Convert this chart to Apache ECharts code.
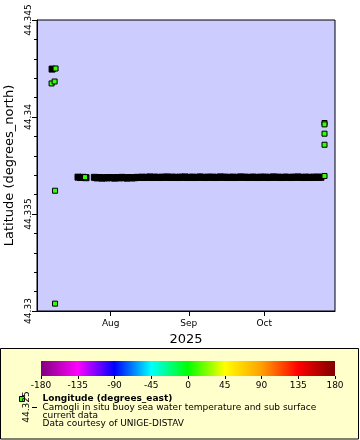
<!DOCTYPE html>
<html>
<head>
<meta charset="utf-8">
<script src="https://cdn.jsdelivr.net/npm/echarts@6/dist/echarts.min.js"></script>
<style>
html,body{margin:0;padding:0;background:#fff;}
#c{width:360px;height:440px;}
</style>
</head>
<body>
<div id="c"></div>
<script>
// ---- data ----
const yTicks = [44.33, 44.335, 44.34, 44.345];
const xRange = ['2025-07-02T17:00', '2025-10-29T02:00'];
const monthNames = ['Jan','Feb','Mar','Apr','May','Jun','Jul','Aug','Sep','Oct','Nov','Dec'];
const colorTicks = [-180, -135, -90, -45, 0, 45, 90, 135, 180];

// points drawn black (dense buoy track)
const blackDates = ['2025-07-08T17:00',
  '2025-07-19T00:00','2025-07-20T00:00','2025-07-21T00:00','2025-07-22T04:00',
  '2025-07-25T12:00','2025-07-26T12:00','2025-07-27T12:00','2025-07-28T12:00','2025-07-29T12:00','2025-07-30T12:00','2025-07-31T12:00',
  '2025-08-01T12:00','2025-08-02T12:00','2025-08-03T12:00','2025-08-04T12:00','2025-08-05T12:00','2025-08-06T12:00','2025-08-07T12:00','2025-08-08T12:00','2025-08-09T12:00','2025-08-10T12:00',
  '2025-08-11T12:00','2025-08-12T12:00','2025-08-13T12:00','2025-08-14T12:00','2025-08-15T12:00','2025-08-16T12:00','2025-08-17T12:00','2025-08-18T12:00','2025-08-19T12:00','2025-08-20T12:00',
  '2025-08-21T12:00','2025-08-22T12:00','2025-08-23T12:00','2025-08-24T12:00','2025-08-25T12:00','2025-08-26T12:00','2025-08-27T12:00','2025-08-28T12:00','2025-08-29T12:00','2025-08-30T12:00','2025-08-31T12:00',
  '2025-09-01T12:00','2025-09-02T12:00','2025-09-03T12:00','2025-09-04T12:00','2025-09-05T12:00','2025-09-06T12:00','2025-09-07T12:00','2025-09-08T12:00','2025-09-09T12:00','2025-09-10T12:00',
  '2025-09-11T12:00','2025-09-12T12:00','2025-09-13T12:00','2025-09-14T12:00','2025-09-15T12:00','2025-09-16T12:00','2025-09-17T12:00','2025-09-18T12:00','2025-09-19T12:00','2025-09-20T12:00',
  '2025-09-21T12:00','2025-09-22T12:00','2025-09-23T12:00','2025-09-24T12:00','2025-09-25T12:00','2025-09-26T12:00','2025-09-27T12:00','2025-09-28T12:00','2025-09-29T12:00','2025-09-30T12:00',
  '2025-10-01T12:00','2025-10-02T12:00','2025-10-03T12:00','2025-10-04T12:00','2025-10-05T12:00','2025-10-06T12:00','2025-10-07T12:00','2025-10-08T12:00','2025-10-09T12:00','2025-10-10T12:00',
  '2025-10-11T12:00','2025-10-12T12:00','2025-10-13T12:00','2025-10-14T12:00','2025-10-15T12:00','2025-10-16T12:00','2025-10-17T12:00','2025-10-18T12:00','2025-10-19T12:00','2025-10-20T12:00',
  '2025-10-21T12:00','2025-10-22T12:00','2025-10-23T12:00'];
const blackLats = [44.34247,
  44.33690, 44.33688, 44.33689, 44.33687,
  44.33689, 44.33686, 44.33688, 44.33685, 44.33687, 44.33686, 44.33688,
  44.33687, 44.33685, 44.33688, 44.33686, 44.33689, 44.33687, 44.33685, 44.33688, 44.33686, 44.33687,
  44.33689, 44.33688, 44.33690, 44.33688, 44.33689, 44.33691, 44.33688, 44.33690, 44.33689, 44.33688,
  44.33690, 44.33689, 44.33691, 44.33688, 44.33690, 44.33689, 44.33688, 44.33690, 44.33689, 44.33691, 44.33688,
  44.33689, 44.33690, 44.33688, 44.33689, 44.33691, 44.33689, 44.33688, 44.33690, 44.33689, 44.33690,
  44.33688, 44.33689, 44.33691, 44.33689, 44.33690, 44.33688, 44.33689, 44.33690, 44.33688, 44.33689,
  44.33691, 44.33689, 44.33690, 44.33688, 44.33689, 44.33690, 44.33689, 44.33688, 44.33690, 44.33689,
  44.33690, 44.33688, 44.33689, 44.33691, 44.33689, 44.33690, 44.33688, 44.33689, 44.33690, 44.33689,
  44.33688, 44.33690, 44.33689, 44.33691, 44.33689, 44.33688, 44.33690, 44.33689, 44.33688, 44.33690,
  44.33689, 44.33690, 44.33689];

// points coloured by longitude (~9.15 degrees_east -> green)
const greenDates = ['2025-07-10T02:00','2025-07-08T12:00','2025-07-09T17:00','2025-07-09T21:00','2025-07-09T21:00',
  '2025-07-21T19:00','2025-10-24T22:00','2025-10-24T22:00','2025-10-24T22:00','2025-10-24T22:00','2025-10-24T22:00'];
const greenLats = [44.34250, 44.34173, 44.34183, 44.33620, 44.33038,
  44.33690, 44.33969, 44.33962, 44.33914, 44.33857, 44.33696];

const FONT = 'DejaVu Sans';
const GREEN = '#33ff00';

function zip(a, b) { return a.map((d, i) => [d, b[i]]); }

const chart = echarts.init(document.getElementById('c'), null, {renderer: 'canvas'});
chart.setOption({
  animation: false,
  backgroundColor: '#ffffff',
  textStyle: {fontFamily: FONT},
  grid: [
    {left: 37, top: 20, width: 298, height: 291, show: true, backgroundColor: '#ccccff',
     borderColor: '#000', borderWidth: 1, containLabel: false, outerBoundsMode: 'none'},
    {left: 41, top: 361, width: 294, height: 15, show: true, borderWidth: 0, outerBoundsMode: 'none',
     backgroundColor: {type: 'linear', x: 0, y: 0, x2: 1, y2: 0, colorStops: [
       {offset: 0, color: '#800080'}, {offset: 0.125, color: '#ff00ff'},
       {offset: 0.25, color: '#0000ff'}, {offset: 0.375, color: '#00ffff'},
       {offset: 0.5, color: '#00ff00'}, {offset: 0.625, color: '#ffff00'},
       {offset: 0.75, color: '#ffa000'}, {offset: 0.875, color: '#ff0000'},
       {offset: 1, color: '#800000'}]}}
  ],
  xAxis: [
    {type: 'time', gridIndex: 0, min: xRange[0], max: xRange[1], splitNumber: 3,
     minInterval: 28 * 86400000,
     name: '2025', nameLocation: 'middle', nameGap: 18,
     nameTextStyle: {fontFamily: FONT, fontSize: 13, color: '#000'},
     axisLine: {lineStyle: {color: '#000', width: 1}},
     axisTick: {show: true, length: 5, lineStyle: {color: '#000'}},
     axisLabel: {fontFamily: FONT, fontSize: 9, color: '#000', margin: 8,
       formatter: function (v) {
         const d = new Date(v);
         return (d.getDate() === 1 && d.getHours() === 0) ? monthNames[d.getMonth()] : '';
       }},
     splitLine: {show: false}, minorTick: {show: false}},
    {type: 'value', gridIndex: 1, min: colorTicks[0], max: colorTicks[colorTicks.length - 1], interval: 45,
     axisLine: {show: false},
     axisTick: {show: true, length: 3, lineStyle: {color: '#000'}},
     axisLabel: {fontFamily: FONT, fontSize: 9, color: '#000', margin: 5},
     splitLine: {show: false}}
  ],
  yAxis: [
    {type: 'value', gridIndex: 0, min: yTicks[0], max: yTicks[yTicks.length - 1], interval: 0.005,
     name: 'Latitude (degrees_north)', nameLocation: 'middle', nameGap: 14.5, nameRotate: 90,
     nameTextStyle: {fontFamily: FONT, fontSize: 13, color: '#000'},
     axisLine: {show: true, lineStyle: {color: '#000', width: 1}},
     axisTick: {show: true, length: 5, lineStyle: {color: '#000'}},
     minorTick: {show: true, splitNumber: 5, length: 3, lineStyle: {color: '#000'}},
     axisLabel: {fontFamily: FONT, fontSize: 9, color: '#000', rotate: 90, margin: 4,
       formatter: function (v) { return String(+v.toFixed(3)); }},
     splitLine: {show: false}, minorSplitLine: {show: false}},
    {type: 'value', gridIndex: 1, show: false, min: 0, max: 1}
  ],
  series: [
    {type: 'scatter', xAxisIndex: 0, yAxisIndex: 0, symbol: 'rect', symbolSize: 6,
     itemStyle: {color: '#000', borderColor: '#000', borderWidth: 1, opacity: 1},
     data: zip(blackDates, blackLats), z: 3},
    {type: 'scatter', xAxisIndex: 0, yAxisIndex: 0, symbol: 'rect', symbolSize: 5,
     itemStyle: {color: GREEN, borderColor: '#000', borderWidth: 1, opacity: 1},
     data: zip(greenDates, greenLats), z: 4}
  ],
  graphic: [
    {type: 'rect', z: -10, shape: {x: 0.5, y: 348.5, width: 358, height: 90.5},
     style: {fill: '#ffffcc', stroke: '#000', lineWidth: 1}},
    {type: 'rect', z: 10, shape: {x: 19.5, y: 396.5, width: 5, height: 5},
     style: {fill: GREEN, stroke: '#000', lineWidth: 1}},
    {type: 'line', z: 10, shape: {x1: 32, y1: 407.5, x2: 37, y2: 407.5},
     style: {stroke: '#000', lineWidth: 1}},
    {type: 'text', z: 10, x: 27, y: 407, rotation: Math.PI / 2,
     style: {text: '44.325', font: '9px "DejaVu Sans"', fill: '#000', align: 'center', verticalAlign: 'middle'}},
    {type: 'text', z: 10, x: 42.5, y: 398.5,
     style: {text: 'Longitude (degrees_east)', font: 'bold 9px "DejaVu Sans"', fill: '#000', align: 'left', verticalAlign: 'middle'}},
    {type: 'text', z: 10, x: 42.5, y: 407.5,
     style: {text: 'Camogli in situ buoy sea water temperature and sub surface', font: '9px "DejaVu Sans"', fill: '#000', align: 'left', verticalAlign: 'middle'}},
    {type: 'text', z: 10, x: 42.5, y: 416,
     style: {text: 'current data', font: '9px "DejaVu Sans"', fill: '#000', align: 'left', verticalAlign: 'middle'}},
    {type: 'text', z: 10, x: 42.5, y: 424,
     style: {text: 'Data courtesy of UNIGE-DISTAV', font: '9px "DejaVu Sans"', fill: '#000', align: 'left', verticalAlign: 'middle'}}
  ]
});
</script>
</body>
</html>
